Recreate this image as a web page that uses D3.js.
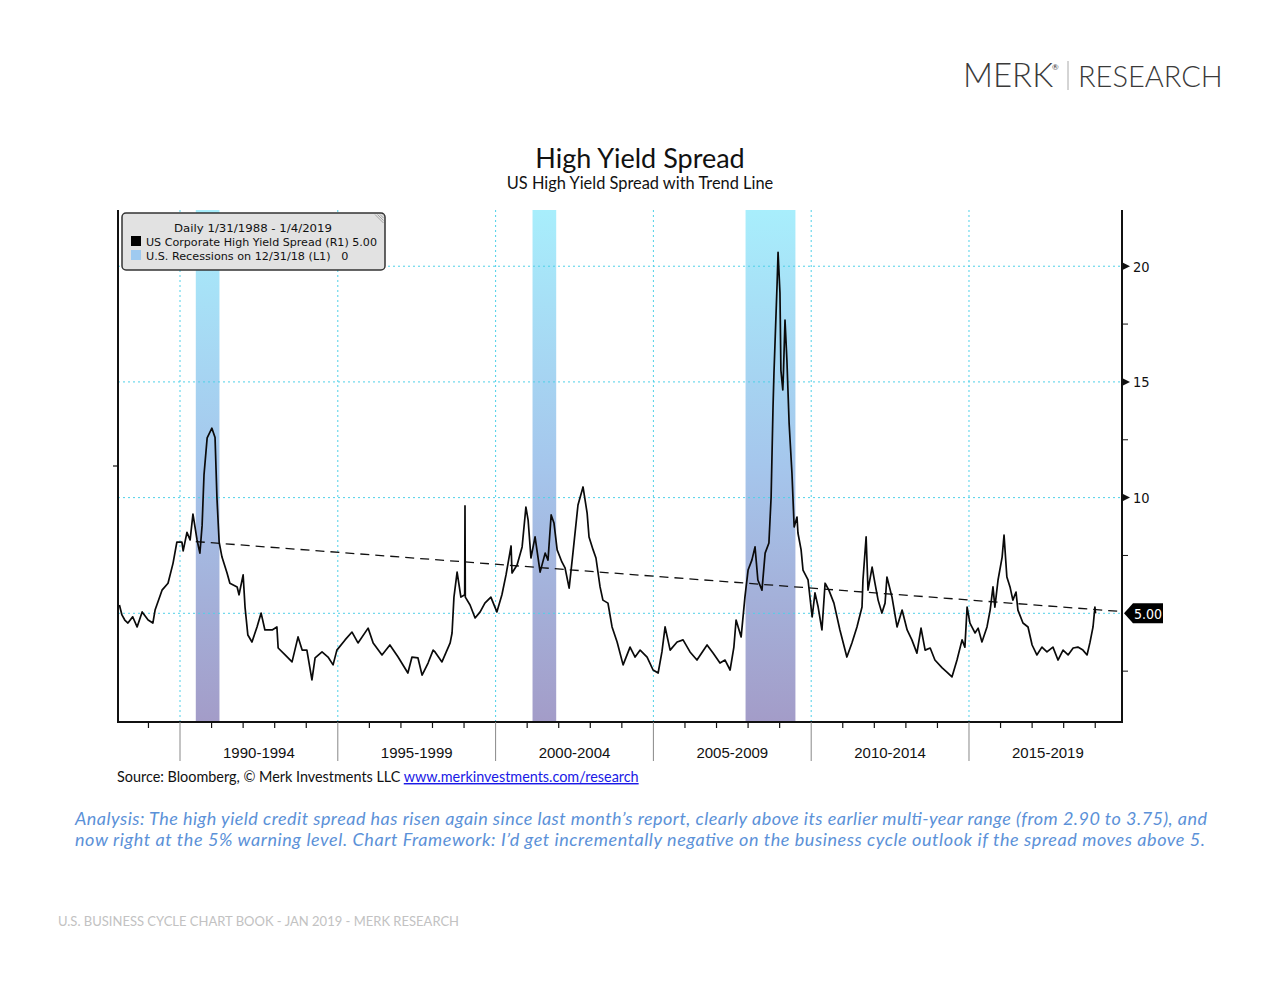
<!DOCTYPE html>
<html>
<head>
<meta charset="utf-8">
<script src="https://cdn.jsdelivr.net/npm/d3@7"></script>
<style>
  html, body { margin: 0; padding: 0; background: #fff; }
  svg { display: block; }
</style>
</head>
<body>
<script>
// ---------------- DATA ----------------
const spreadDates = [
1988.08,1988.16,1988.25,1988.35,1988.50,1988.64,1988.80,1988.99,1989.14,1989.21,1989.43,1989.62,1989.78,1989.90,
1990.06,1990.10,1990.22,1990.32,1990.41,1990.54,1990.63,1990.70,1990.76,1990.86,1991.01,1991.11,1991.17,1991.24,
1991.33,1991.49,1991.58,1991.81,1991.87,1992.00,1992.06,1992.15,1992.28,1992.44,1992.57,1992.69,1992.92,1993.07,
1993.11,1993.33,1993.55,1993.74,1993.87,1994.02,1994.18,1994.28,1994.50,1994.69,1994.85,1994.97,1995.23,1995.45,
1995.64,1995.96,1996.12,1996.40,1996.65,1996.91,1997.22,1997.35,1997.54,1997.67,1997.86,1998.02,1998.08,1998.30,
1998.56,1998.62,1998.68,1998.78,1998.90,1999.02,1999.03,1999.04,1999.19,1999.35,1999.51,1999.66,1999.85,2000.04,
2000.20,2000.33,2000.49,2000.52,2000.68,2000.84,2000.96,2001.03,2001.12,2001.25,2001.41,2001.57,2001.66,2001.76,
2001.85,2001.95,2002.10,2002.20,2002.33,2002.45,2002.61,2002.77,2002.90,2002.96,2003.09,2003.18,2003.31,2003.40,
2003.56,2003.69,2003.85,2004.04,2004.26,2004.42,2004.58,2004.80,2004.99,2005.15,2005.27,2005.37,2005.53,2005.75,
2005.94,2006.16,2006.38,2006.70,2006.89,2007.11,2007.27,2007.43,2007.55,2007.62,2007.78,2007.90,2008.00,2008.12,
2008.22,2008.31,2008.44,2008.54,2008.66,2008.73,2008.79,2008.82,2008.92,2008.95,2009.01,2009.04,2009.10,2009.12,
2009.17,2009.23,2009.30,2009.39,2009.46,2009.55,2009.58,2009.68,2009.74,2009.90,2010.03,2010.12,2010.22,2010.34,
2010.44,2010.56,2010.72,2010.91,2011.13,2011.29,2011.45,2011.61,2011.64,2011.74,2011.80,2011.93,2012.02,2012.12,
2012.24,2012.34,2012.40,2012.56,2012.72,2012.88,2013.04,2013.19,2013.35,2013.48,2013.61,2013.77,2013.92,2014.15,
2014.30,2014.46,2014.62,2014.78,2014.87,2014.94,2015.03,2015.19,2015.29,2015.41,2015.57,2015.67,2015.76,2015.82,
2015.92,2016.05,2016.11,2016.20,2016.30,2016.39,2016.49,2016.55,2016.71,2016.87,2017.00,2017.15,2017.31,2017.47,
2017.66,2017.82,2017.98,2018.14,2018.30,2018.45,2018.61,2018.74,2018.83,2018.93,2018.99,2019.01
];
const spreadValues = [
5.36,4.93,4.71,4.58,4.85,4.41,5.06,4.71,4.58,5.14,6.00,6.30,7.17,8.08,
8.08,7.70,8.50,8.17,9.29,8.17,7.60,8.80,10.98,12.58,13.00,12.60,10.00,8.08,
7.43,6.74,6.30,6.14,5.80,6.66,5.27,4.06,3.76,4.41,5.01,4.28,4.28,4.41,
3.50,3.20,2.90,3.98,3.41,3.41,2.12,3.07,3.33,3.11,2.77,3.41,3.85,4.19,
3.72,4.36,3.72,3.20,3.63,3.11,2.42,3.11,3.07,2.33,2.85,3.41,3.33,2.90,
3.72,4.15,5.70,6.78,5.70,5.80,9.64,5.70,5.36,4.80,5.06,5.44,5.70,5.06,
5.80,6.66,7.91,6.74,7.09,7.87,9.59,9.03,7.39,8.30,6.78,7.60,7.30,9.25,
8.90,7.74,7.22,6.96,6.09,7.60,9.68,10.46,9.33,8.30,7.74,7.39,6.14,5.57,
5.44,4.41,3.76,2.77,3.54,3.11,3.41,3.11,2.55,2.42,3.33,4.41,3.41,3.76,
3.85,3.33,2.98,3.63,3.28,2.85,2.98,2.55,3.54,4.71,3.98,5.70,6.87,7.30,
7.87,6.44,6.00,7.60,8.04,10.03,13.90,15.38,19.27,20.60,18.84,15.50,14.65,15.38,
17.67,15.95,13.22,11.06,8.73,9.16,8.47,7.74,6.87,6.44,4.84,5.88,5.27,4.28,
6.30,6.00,5.44,4.28,3.11,3.72,4.41,5.27,6.44,8.30,6.00,7.00,6.30,5.57,
5.01,5.44,6.57,5.70,4.41,5.14,4.28,3.85,3.28,4.36,3.41,3.50,2.98,2.64,
2.46,2.25,2.98,3.85,3.54,5.27,4.58,4.15,4.36,3.76,4.41,5.14,6.14,5.27,
6.44,7.43,8.38,6.57,6.14,5.57,5.92,5.14,4.58,4.41,3.63,3.20,3.54,3.33,
3.54,2.98,3.41,3.20,3.50,3.54,3.41,3.20,3.72,4.41,5.27,5.00
];
const recessionStart = [1990.50, 2001.17, 2007.92];
const recessionEnd   = [1991.25, 2001.92, 2009.50];
const trendDates  = [1990.50, 2019.80];
const trendValues = [8.10, 5.08];
const yTickValues = [5, 10, 15, 20];
const yMinorTicks = [2.5, 7.5, 12.5, 17.5];
const periodStarts = [1990, 1995, 2000, 2005, 2010, 2015];
const periodLabels = ["1990-1994", "1995-1999", "2000-2004", "2005-2009", "2010-2014", "2015-2019"];
const yearTicks = d3.range(1989, 2020);
const lastValue = 5.00;

// ---------------- LAYOUT ----------------
const W = 1280, H = 989;
const pLeft = 118, pRight = 1122, pTop = 210, pBottom = 722;

const svg = d3.select("body").append("svg").attr("width", W).attr("height", H);
svg.append("rect").attr("width", W).attr("height", H).attr("fill", "#fff");

const x = d3.scaleLinear().domain([1988.035, 2019.848]).range([pLeft, pRight]);
const y = d3.scaleLinear().domain([0.3025, 22.43]).range([pBottom, pTop]);
const yL = d3.scaleLinear().domain([0, 1]).range([pBottom, pTop]);

// gradient for recession bands
const defs = svg.append("defs");
const grad = defs.append("linearGradient").attr("id", "recGrad")
  .attr("gradientUnits", "userSpaceOnUse").attr("x1", 0).attr("x2", 0).attr("y1", pTop).attr("y2", pBottom);
grad.append("stop").attr("offset", "0%").attr("stop-color", "#a8eefc");
grad.append("stop").attr("offset", "50%").attr("stop-color", "#a5c6ec");
grad.append("stop").attr("offset", "100%").attr("stop-color", "#a39cc8");

// ---------------- HEADER ----------------
const logo = svg.append("g").attr("font-family", "Lato, 'Open Sans', sans-serif").attr("fill", "#3a3a3a");
logo.append("text").attr("x", 963).attr("y", 87).attr("font-size", 33).attr("font-weight", 300).text("MERK");
logo.append("text").attr("x", 1052).attr("y", 70).attr("font-size", 8).text("®");
logo.append("line").attr("x1", 1068).attr("x2", 1068).attr("y1", 61).attr("y2", 90).attr("stroke", "#aaa").attr("stroke-width", 1);
logo.append("text").attr("x", 1078).attr("y", 87).attr("font-size", 29).attr("font-weight", 300).text("RESEARCH");

svg.append("text").attr("x", 640).attr("y", 168).attr("text-anchor", "middle")
  .attr("font-family", "Lato, sans-serif").attr("font-size", 27).attr("fill", "#111").text("High Yield Spread");
svg.append("text").attr("x", 640).attr("y", 189).attr("text-anchor", "middle")
  .attr("font-family", "Lato, sans-serif").attr("font-size", 16.4).attr("fill", "#111").text("US High Yield Spread with Trend Line");

// ---------------- RECESSIONS ----------------
const recData = recessionStart.map((s, i) => ({ s, e: recessionEnd[i] }));
svg.append("g").selectAll("rect").data(recData).join("rect")
  .attr("x", d => x(d.s)).attr("width", d => x(d.e) - x(d.s))
  .attr("y", yL(1)).attr("height", yL(0) - yL(1))
  .attr("fill", "url(#recGrad)");

// ---------------- GRID ----------------
const grid = svg.append("g").attr("stroke", "#4fd0e8").attr("stroke-width", 1).attr("stroke-dasharray", "2,3");
grid.selectAll("line.h").data(yTickValues).join("line").attr("class", "h")
  .attr("x1", pLeft).attr("x2", pRight).attr("y1", d => y(d)).attr("y2", d => y(d));
grid.selectAll("line.v").data(periodStarts).join("line").attr("class", "v")
  .attr("x1", d => x(d)).attr("x2", d => x(d)).attr("y1", pTop).attr("y2", pBottom);

// ---------------- TREND ----------------
const trendPts = trendDates.map((d, i) => [d, trendValues[i]]);
svg.append("path").datum(trendPts)
  .attr("d", d3.line().x(d => x(d[0])).y(d => y(d[1])))
  .attr("fill", "none").attr("stroke", "#111").attr("stroke-width", 1.3).attr("stroke-dasharray", "9,6");

// ---------------- SERIES ----------------
const pts = spreadDates.map((d, i) => [d, spreadValues[i]]);
svg.append("path").datum(pts)
  .attr("d", d3.line().x(d => x(d[0])).y(d => y(d[1])))
  .attr("fill", "none").attr("stroke", "#0a0a0a").attr("stroke-width", 1.7).attr("stroke-linejoin", "round");

// ---------------- AXES ----------------
const axisG = svg.append("g");
axisG.append("line").attr("x1", pLeft).attr("x2", pLeft).attr("y1", pTop).attr("y2", pBottom).attr("stroke", "#111").attr("stroke-width", 2);
axisG.append("line").attr("x1", pRight).attr("x2", pRight).attr("y1", pTop).attr("y2", pBottom).attr("stroke", "#111").attr("stroke-width", 2);
axisG.append("line").attr("x1", pLeft - 1).attr("x2", pRight + 1).attr("y1", pBottom).attr("y2", pBottom).attr("stroke", "#111").attr("stroke-width", 2);
// left L1 tick
axisG.append("line").attr("x1", pLeft - 5).attr("x2", pLeft).attr("y1", yL(0.5)).attr("y2", yL(0.5)).attr("stroke", "#111").attr("stroke-width", 1.2);

// right axis ticks
axisG.selectAll("path.tri").data(yTickValues.filter(v => v !== 5)).join("path").attr("class", "tri")
  .attr("d", d => `M${pRight},${y(d) - 4}L${pRight + 8},${y(d)}L${pRight},${y(d) + 4}Z`).attr("fill", "#111");
axisG.selectAll("line.minor").data(yMinorTicks).join("line").attr("class", "minor")
  .attr("x1", pRight).attr("x2", pRight + 6).attr("y1", d => y(d)).attr("y2", d => y(d)).attr("stroke", "#111").attr("stroke-width", 1);
axisG.selectAll("text.yl").data(yTickValues.filter(v => v !== 5)).join("text").attr("class", "yl")
  .attr("x", pRight + 11).attr("y", d => y(d) + 5.5)
  .attr("font-family", "'DejaVu Sans Condensed', 'Liberation Sans', sans-serif").attr("font-size", 14.5).attr("fill", "#111")
  .text(d => d);

// last value tag
const ly = y(lastValue);
axisG.append("path").attr("d", `M${pRight + 2},${ly}L${pRight + 11},${ly - 10}L${pRight + 41},${ly - 10}L${pRight + 41},${ly + 10}L${pRight + 11},${ly + 10}Z`).attr("fill", "#000");
axisG.append("text").attr("x", pRight + 26).attr("y", ly + 5.5).attr("text-anchor", "middle")
  .attr("font-family", "'DejaVu Sans Condensed', 'Liberation Sans', sans-serif").attr("font-size", 14).attr("fill", "#fff")
  .text(lastValue.toFixed(2));

// x axis: yearly minor ticks
axisG.selectAll("line.yt").data(yearTicks.filter(yr => yr % 5 !== 0)).join("line").attr("class", "yt")
  .attr("x1", d => x(d)).attr("x2", d => x(d)).attr("y1", pBottom).attr("y2", pBottom + 6).attr("stroke", "#111").attr("stroke-width", 1.2);
axisG.selectAll("line.pt").data(periodStarts).join("line").attr("class", "pt")
  .attr("x1", d => x(d)).attr("x2", d => x(d)).attr("y1", pBottom).attr("y2", pBottom + 39).attr("stroke", "#888").attr("stroke-width", 1);
axisG.selectAll("text.xl").data(periodStarts).join("text").attr("class", "xl")
  .attr("x", d => (x(d) + x(d + 5)) / 2).attr("y", pBottom + 36).attr("text-anchor", "middle")
  .attr("font-family", "'Liberation Sans', Arial, sans-serif").attr("font-size", 15).attr("fill", "#111")
  .text((d, i) => periodLabels[i]);

// ---------------- LEGEND ----------------
const lg = svg.append("g").attr("transform", "translate(122,213)");
lg.append("rect").attr("width", 263).attr("height", 57).attr("rx", 4).attr("fill", "#e2e2e2").attr("stroke", "#333").attr("stroke-width", 1.5);
for (let i = 0; i < 4; i++) {
  lg.append("line").attr("x1", 253 + i * 2.5).attr("y1", 1.5).attr("x2", 261.5).attr("y2", 10 - i * 2.5).attr("stroke", "#888").attr("stroke-width", 0.7);
}
const lf = "'DejaVu Sans', sans-serif";
lg.append("text").attr("x", 131).attr("y", 19).attr("text-anchor", "middle").attr("font-family", lf).attr("font-size", 11.2).attr("fill", "#111")
  .attr("textLength", 158).attr("lengthAdjust", "spacingAndGlyphs").text("Daily 1/31/1988 - 1/4/2019");
lg.append("rect").attr("x", 9).attr("y", 23).attr("width", 10).attr("height", 10).attr("fill", "#000");
lg.append("text").attr("x", 24).attr("y", 33).attr("font-family", lf).attr("font-size", 11.2).attr("fill", "#111")
  .attr("textLength", 231).attr("lengthAdjust", "spacingAndGlyphs").text("US Corporate High Yield Spread (R1) 5.00");
lg.append("rect").attr("x", 9).attr("y", 37).attr("width", 10).attr("height", 10).attr("fill", "#9fcaf0");
lg.append("text").attr("x", 24).attr("y", 47).attr("font-family", lf).attr("font-size", 11.2).attr("fill", "#111").attr("xml:space", "preserve").text("U.S. Recessions on 12/31/18 (L1)   0");

// ---------------- FOOTNOTES ----------------
const src = svg.append("text").attr("x", 117).attr("y", 782).attr("font-family", "Lato, sans-serif").attr("font-size", 14.4).attr("fill", "#111");
src.append("tspan").text("Source: Bloomberg, © Merk Investments LLC ");
src.append("tspan").attr("fill", "#1a1ae6").attr("text-decoration", "underline").text("www.merkinvestments.com/research");

const an = svg.append("g").attr("font-family", "Lato, sans-serif").attr("font-style", "italic").attr("font-size", 18).attr("fill", "#5b91d8");
an.append("text").attr("x", 641).attr("y", 825).attr("text-anchor", "middle")
  .attr("textLength", 1132).attr("lengthAdjust", "spacing")
  .text("Analysis: The high yield credit spread has risen again since last month’s report, clearly above its earlier multi-year range (from 2.90 to 3.75), and");
an.append("text").attr("x", 640).attr("y", 846).attr("text-anchor", "middle")
  .attr("textLength", 1130).attr("lengthAdjust", "spacing")
  .text("now right at the 5% warning level. Chart Framework: I’d get incrementally negative on the business cycle outlook if the spread moves above 5.");

svg.append("text").attr("x", 58).attr("y", 926).attr("font-family", "Lato, sans-serif").attr("font-size", 13).attr("fill", "#c2c2c2")
  .text("U.S. BUSINESS CYCLE CHART BOOK - JAN 2019 - MERK RESEARCH");
</script>
</body>
</html>
